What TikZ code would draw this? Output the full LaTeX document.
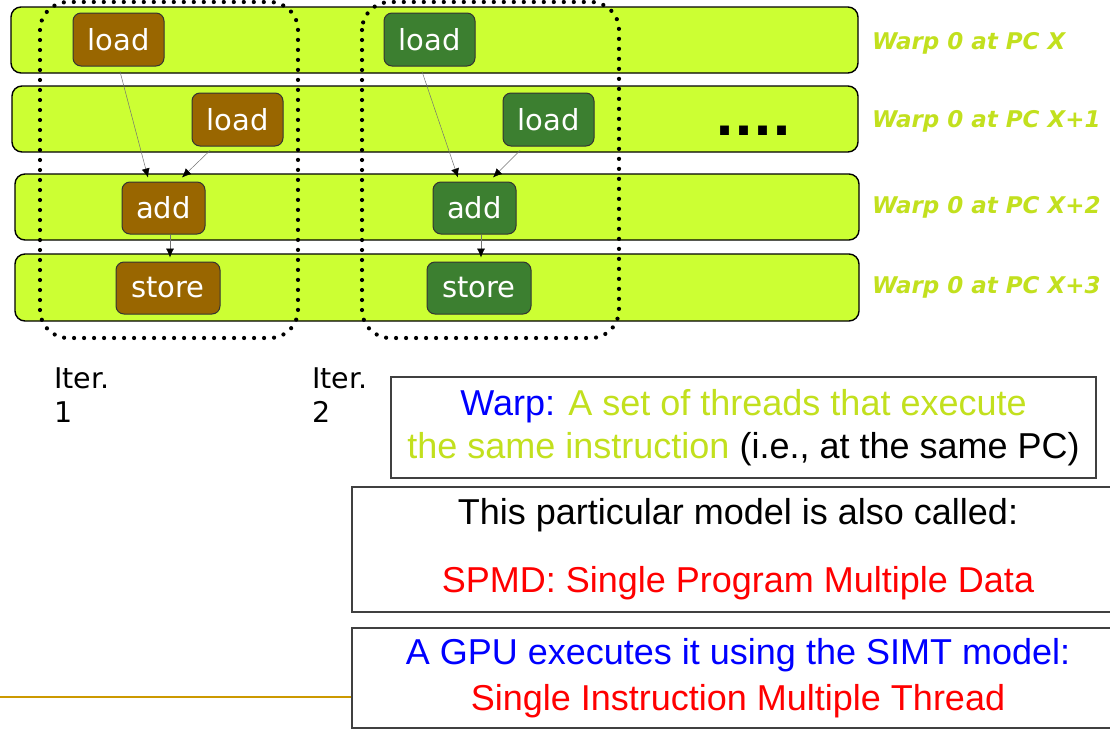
\documentclass[tikz,border=0pt]{standalone}
\usepackage{fontspec}
\setmainfont{Liberation Sans}
\newfontfamily\verdana{DejaVu Sans}[ItalicFont={DejaVu Sans Oblique},BoldItalicFont={DejaVu Sans Bold Oblique}]
\usepackage{tikz}
\usetikzlibrary{arrows.meta}
\definecolor{barlime}{HTML}{CCFF33}
\definecolor{labellime}{HTML}{C2E01E}
\definecolor{iterbrown}{HTML}{996600}
\definecolor{itergreen}{HTML}{3C7F30}
\definecolor{slidegold}{HTML}{CC9900}
\tikzset{>={Latex[black,length=9pt,width=8pt]}}
\tikzset{
  pcbar/.style={draw=black,line width=1.4pt,fill=barlime,rounded corners=10pt},
  pclabel/.style={anchor=base west,inner sep=0pt,text=labellime,font=\verdana\bfseries\itshape\fontsize{23}{28}\selectfont},
  instr/.style={draw=black!80,line width=1pt,rounded corners=8pt,text=white,minimum height=53pt,inner sep=0pt,font=\verdana\fontsize{29}{34}\selectfont},
  itergroup/.style={line width=4.2pt,dash pattern=on 0pt off 10pt,line cap=round,rounded corners=28pt},
  dep/.style={->,draw=black!55,line width=0.5pt},
  iterlabel/.style={anchor=north west,inner sep=0pt,align=left,font=\verdana\fontsize{28.5}{34}\selectfont},
  notebox/.style={draw=black!75,line width=1.2pt,fill=white,align=center,inner sep=0pt,font=\fontsize{36}{43}\selectfont}
}

\begin{document}
\begin{tikzpicture}[x=1pt,y=-1pt]
       \useasboundingbox (0,0) rectangle (1110,731);
       \draw[pcbar] (11,7) rectangle (858,73);
       \draw[pcbar] (12,86) rectangle (858,152);
       \draw[pcbar] (15,174) rectangle (859,240);
       \draw[pcbar] (15,254) rectangle (859,321);
       \node[pclabel] (pcx) at (872,49) {Warp 0 at PC X};
       \node[pclabel] (pcxa) at (872,127) {Warp 0 at PC X+1};
       \node[pclabel] (pcxb) at (872,213) {Warp 0 at PC X+2};
       \node[pclabel] (pcxc) at (872,293) {Warp 0 at PC X+3};
       \node[anchor=base west,inner sep=0pt,font=\verdana\bfseries\fontsize{50}{60}\selectfont] (more) at (715,135) {....};

       \draw[itergroup] (40,2) rectangle (298,338);
       \draw[itergroup] (362,2) rectangle (619,338);

       \node[instr,fill=iterbrown,minimum width=91pt] (ldA1) at (118.5,39.5) {load};
       \node[instr,fill=iterbrown,minimum width=91pt] (ldA2) at (237.5,119.5) {load};
       \node[instr,fill=iterbrown,minimum width=83pt,minimum height=52pt] (adA) at (163.5,208) {add};
       \node[instr,fill=iterbrown,minimum width=104pt,minimum height=52pt] (stA) at (168,288) {store};
       \node[instr,fill=itergreen,minimum width=91pt] (ldB1) at (429.5,39.5) {load};
       \node[instr,fill=itergreen,minimum width=91pt] (ldB2) at (548.5,119.5) {load};
       \node[instr,fill=itergreen,minimum width=83pt,minimum height=52pt] (adB) at (474.5,208) {add};
       \node[instr,fill=itergreen,minimum width=104pt,minimum height=52pt] (stB) at (479,288) {store};

       \draw[dep] ([xshift=1.5pt,yshift=-5pt]ldA1.south) -- ([xshift=-15.5pt,yshift=4pt]adA.north);
       \draw[dep] ([xshift=-27.5pt,yshift=-4pt]ldA2.south) -- ([xshift=18.5pt,yshift=4pt]adA.north);
       \draw[dep] ([xshift=6.5pt]adA.south) -- ([xshift=2pt,yshift=4pt]stA.north);
       \draw[dep] ([xshift=-7.5pt,yshift=-5pt]ldB1.south) -- ([xshift=-16.5pt,yshift=4pt]adB.north);
       \draw[dep] ([xshift=-28.5pt,yshift=-4pt]ldB2.south) -- ([xshift=18.5pt,yshift=4pt]adB.north);
       \draw[dep] ([xshift=6.5pt]adB.south) -- ([xshift=2pt,yshift=4pt]stB.north);

       \node[iterlabel] (iterA) at (54,368) {Iter.\\1};
       \node[iterlabel] (iterB) at (312,368) {Iter.\\2};

       \coordinate (rulestart) at (0,697);
       \node[notebox,minimum width=705pt,minimum height=101pt] (warpdef) at (743.5,427.5)
         {\textcolor{blue}{Warp:} \textcolor{labellime}{A set of threads that execute}\\
          \textcolor{labellime}{the same instruction} (i.e., at the same PC)};
       \node[notebox,minimum width=772pt,minimum height=125pt] (spmd) at (738,549.5)
         {This particular model is also called:\\[25pt]
          \textcolor{red}{SPMD: Single Program Multiple Data}};
       \draw[slidegold,line width=2pt] (rulestart) -- (rulestart -| spmd.west);
       \node[notebox,minimum width=772pt,minimum height=100pt,font=\fontsize{36}{46}\selectfont] (simt) at (738,678)
         {\textcolor{blue}{A GPU executes it using the SIMT model:}\\
          \textcolor{red}{Single Instruction Multiple Thread}};
      \end{tikzpicture}
\end{document}
